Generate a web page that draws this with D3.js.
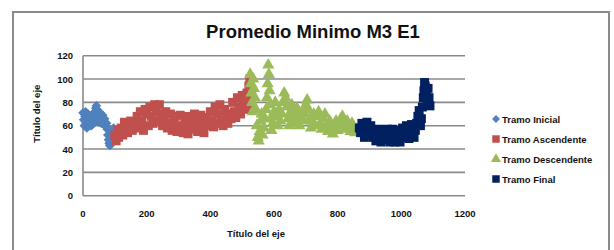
<!DOCTYPE html>
<html>
<head>
<meta charset="utf-8">
<script src="https://cdn.jsdelivr.net/npm/d3@7"></script>
<style>
  body { margin: 0; background: #fff; }
  svg { display: block; font-family: "Liberation Sans", Arial, sans-serif; }
  .grid line { stroke: #8a8a8a; stroke-width: 1.6; }
  .tick-label { font-size: 9.5px; font-weight: bold; fill: #111; }
  .axis-title { font-size: 9.5px; font-weight: bold; fill: #111; }
  .legend-label { font-size: 9.5px; font-weight: bold; fill: #111; }
</style>
</head>
<body>
<svg id="chart" width="614" height="250"></svg>
<script>
var margin = {top: 55.7, left: 83, right: 149, bottom: 54.3},
    width = 614 - margin.left - margin.right,
    height = 250 - margin.top - margin.bottom;

// ticks
var xTicks = [0, 200, 400, 600, 800, 1000, 1200];
var yTicks = [0, 20, 40, 60, 80, 100, 120];

// series names
var seriesNames = ["Tramo Inicial", "Tramo Ascendente", "Tramo Descendente", "Tramo Final"];

// values, [x, y]
var tramoInicial = [[0,71],[2,65],[4,60],[6,68],[8,72],[10,62],[12,58],[14,66],[16,70],[18,63],
  [20,60],[22,67],[24,64],[26,60],[28,66],[30,70],[32,65],[34,62],[36,68],[38,72],[40,75],[42,77],
  [44,74],[46,70],[48,66],[50,63],[52,68],[54,71],[56,65],[58,62],[60,67],[62,69],[64,64],[66,61],
  [68,66],[70,63],[72,59],[74,62],[76,57],[78,52],[80,48],[82,45],[84,43],[86,46],[88,44],[90,49],
  [92,53],[94,56],[96,58],[98,54]];

var tramoAscendente = [[100,52],[104,47],[108,56],[112,50],[116,54],[120,58],[125,52],[130,63],
  [135,57],[140,54],[145,60],[150,64],[155,56],[160,59],[165,62],[170,68],[175,58],[180,72],[185,64],
  [190,56],[195,74],[200,70],[205,60],[210,76],[215,68],[220,62],[225,78],[230,72],[235,64],[240,78],
  [245,70],[250,60],[255,66],[260,72],[265,58],[270,62],[275,70],[280,56],[285,64],[290,68],[295,55],
  [300,60],[305,69],[310,58],[315,54],[320,62],[325,68],[330,53],[335,60],[340,66],[345,57],[350,70],
  [355,62],[360,55],[365,64],[370,69],[375,58],[380,54],[385,62],[390,67],[395,60],[400,72],[405,64],
  [410,59],[415,76],[420,70],[425,62],[430,78],[435,68],[440,60],[445,74],[450,66],[455,62],[460,70],
  [465,66],[470,80],[475,72],[480,67],[485,84],[490,76],[495,70],[500,86],[505,80],[510,74],[515,88],
  [518,82],[521,94],[524,100],[527,78],[530,86]];

var tramoDescendente = [[525,104],[527,96],[529,88],[531,80],[533,72],[535,100],[537,92],[540,84],
  [543,74],[546,60],[549,50],[552,47],[555,55],[558,64],[561,70],[564,52],[568,58],[572,66],[575,74],
  [578,84],[580,96],[582,112],[584,104],[586,90],[588,78],[590,66],[592,56],[596,62],[600,72],[604,80],
  [608,68],[612,60],[616,74],[620,64],[624,70],[628,80],[632,88],[636,84],[640,76],[644,66],[648,60],
  [652,72],[656,78],[660,68],[664,62],[668,70],[672,75],[676,66],[680,60],[684,68],[688,72],[692,64],
  [696,70],[700,78],[704,82],[708,74],[712,66],[716,58],[720,64],[725,70],[730,60],[735,68],[740,72],
  [745,62],[750,57],[755,66],[760,70],[765,60],[770,55],[775,64],[780,58],[785,53],[790,60],[795,64],
  [800,56],[805,60],[810,66],[815,68],[820,62],[825,57],[830,64],[835,60],[840,55],[845,62],[850,58],
  [855,54],[860,57]];

var tramoFinal = [[868,58],[872,54],[876,62],[880,56],[884,50],[888,60],[892,63],[896,57],[900,52],
  [904,60],[908,55],[912,50],[916,56],[920,47],[924,52],[928,57],[932,49],[936,46],[940,53],[944,56],
  [948,48],[952,51],[956,57],[960,50],[964,46],[968,54],[972,57],[976,49],[980,46],[984,52],[988,56],
  [992,48],[996,46],[1000,53],[1004,58],[1008,50],[1012,55],[1016,60],[1020,52],[1024,49],[1028,57],
  [1032,61],[1036,54],[1040,50],[1044,56],[1048,62],[1052,68],[1056,73],[1060,60],[1063,66],[1066,76],
  [1069,84],[1071,90],[1073,97],[1075,94],[1078,88],[1081,80],[1084,92],[1087,84],[1090,77]];

var series = [
  {name: seriesNames[0], data: tramoInicial, color: "#4f81bd", symbol: d3.symbolSquare, size: 46, rot: 45},
  {name: seriesNames[1], data: tramoAscendente, color: "#c0504d", symbol: d3.symbolSquare, size: 80, rot: 0},
  {name: seriesNames[2], data: tramoDescendente, color: "#9bbb59", symbol: d3.symbolTriangle, size: 64, rot: 0},
  {name: seriesNames[3], data: tramoFinal, color: "#002060", symbol: d3.symbolSquare, size: 80, rot: 0}
];

var root = d3.select("#chart");

root.append("rect")
    .attr("width", 614).attr("height", 250)
    .attr("fill", "#fff");

// chart frame
root.append("rect")
    .attr("x", 13).attr("y", 12)
    .attr("width", 596).attr("height", 250)
    .attr("fill", "#fff")
    .attr("stroke", "#8a8a8a")
    .attr("stroke-width", 2);

root.append("text")
    .attr("x", 313).attr("y", 38)
    .attr("text-anchor", "middle")
    .style("font-size", "18.5px")
    .style("font-weight", "bold")
    .attr("fill", "#111")
    .text("Promedio Minimo M3 E1");

var svg = root.append("g")
    .attr("transform", "translate(" + margin.left + "," + margin.top + ")");

var x = d3.scaleLinear().domain([0, 1200]).range([0, width]);
var y = d3.scaleLinear().domain([0, 120]).range([height, 0]);

// horizontal gridlines
svg.append("g")
    .attr("class", "grid")
    .selectAll("line")
    .data(yTicks)
    .enter().append("line")
    .attr("x1", 0).attr("x2", width)
    .attr("y1", function(d) { return y(d); })
    .attr("y2", function(d) { return y(d); });

// y axis line
svg.append("line")
    .attr("x1", 0).attr("x2", 0)
    .attr("y1", 0).attr("y2", height)
    .attr("stroke", "#8a8a8a").attr("stroke-width", 1.6);

svg.selectAll(".ylab")
    .data(yTicks)
    .enter().append("text")
    .attr("class", "tick-label")
    .attr("x", -10)
    .attr("y", function(d) { return y(d) + 3.5; })
    .attr("text-anchor", "end")
    .text(function(d) { return d; });

svg.selectAll(".xlab")
    .data(xTicks)
    .enter().append("text")
    .attr("class", "tick-label")
    .attr("x", function(d) { return x(d); })
    .attr("y", height + 21)
    .attr("text-anchor", "middle")
    .text(function(d) { return d; });

// axis titles
svg.append("text")
    .attr("class", "axis-title")
    .attr("x", width / 2 - 18)
    .attr("y", height + 41)
    .attr("text-anchor", "middle")
    .text("Título del eje");

svg.append("text")
    .attr("class", "axis-title")
    .attr("transform", "translate(-43," + (height / 2 - 12) + ") rotate(-90)")
    .attr("text-anchor", "middle")
    .text("Título del eje");

// points
series.forEach(function(s) {
    var sym = d3.symbol().type(s.symbol).size(s.size);
    svg.append("g")
        .selectAll("path")
        .data(s.data)
        .enter().append("path")
        .attr("transform", function(d) {
            return "translate(" + x(d[0]) + "," + y(d[1]) + ") rotate(" + s.rot + ")";
        })
        .attr("d", sym)
        .attr("fill", s.color);
});

// legend
var legend = root.append("g")
    .attr("transform", "translate(496,119)");

var item = legend.selectAll("g")
    .data(series)
    .enter().append("g")
    .attr("transform", function(d, i) { return "translate(0," + (i * 20) + ")"; });

item.append("path")
    .attr("d", function(d) { return d3.symbol().type(d.symbol).size(d.size * 0.7)(); })
    .attr("transform", function(d) { return "rotate(" + d.rot + ")"; })
    .attr("fill", function(d) { return d.color; });

item.append("text")
    .attr("class", "legend-label")
    .attr("x", 6)
    .attr("y", 3.5)
    .text(function(d) { return d.name; });
</script>
</body>
</html>
